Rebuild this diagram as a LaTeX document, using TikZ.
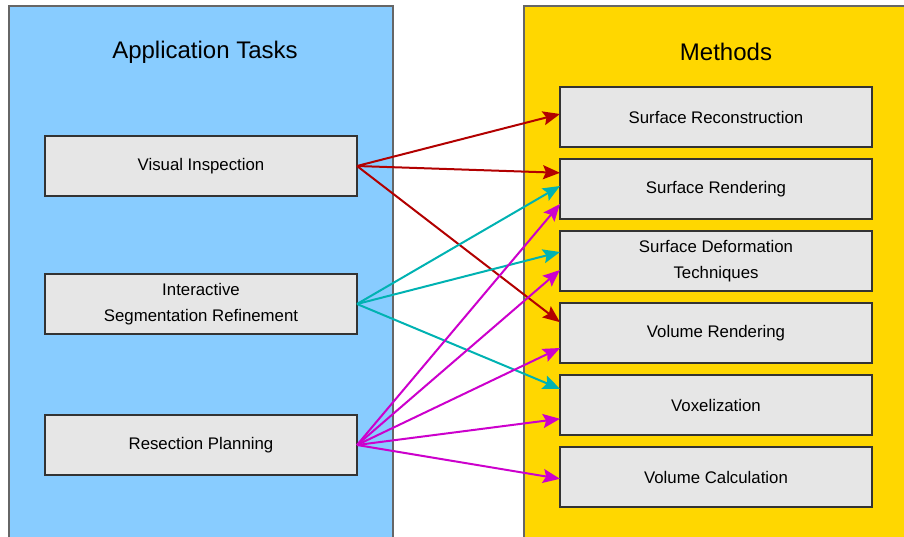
\documentclass[tikz,border=0pt]{standalone}
\usepackage{fontspec}
\setmainfont{Liberation Sans}
\usetikzlibrary{arrows.meta, positioning, calc}
\definecolor{panelblue}{RGB}{136,204,255}
\definecolor{panelgold}{RGB}{255,215,0}
\definecolor{boxgray}{RGB}{230,230,230}
\definecolor{linkred}{RGB}{178,0,0}
\definecolor{linkcyan}{RGB}{0,178,178}
\definecolor{linkmagenta}{RGB}{204,0,204}
\tikzset{
  panel/.style={draw=black!60, line width=1.5pt},
  paneltitle/.style={font=\fontsize{24}{28}\selectfont},
  taskbox/.style={draw=black!80, fill=boxgray, line width=1.2pt, minimum width=312pt,
    minimum height=60pt, inner sep=0pt, outer sep=0pt, align=center,
    font=\fontsize{16.8}{26}\selectfont},
  link/.style={line width=2pt, -{Stealth[length=17pt,width=14pt,inset=3pt]}},
}

\begin{document}
\begin{tikzpicture}[x=1pt, y=-1pt]
    \useasboundingbox (0,0) rectangle (904,537);
    \clip (0,0) rectangle (904,537);
    % 两个背景面板
    \draw[panel, fill=panelblue] (9,6) rectangle (393,560);
    \draw[panel, fill=panelgold] (524,6) rectangle (930,560);
    \node[paneltitle] (tasktitle) at (205,52) {Application Tasks};
    \node[paneltitle] (methtitle) at (726,52) {Methods};

    % 左侧：应用任务
    \node[taskbox] (vi) at (201,166) {Visual Inspection};
    \node[taskbox, below=78pt of vi] (ia) {Interactive\\Segmentation Refinement};
    \node[taskbox, below=81pt of ia] (rp) {Resection Planning};

    % 右侧：方法
    \node[taskbox] (srec) at (716,117) {Surface Reconstruction};
    \node[taskbox, below=12pt of srec] (srend) {Surface Rendering};
    \node[taskbox, below=12pt of srend] (sdef) {Surface Deformation\\Techniques};
    \node[taskbox, below=12pt of sdef] (vrend) {Volume Rendering};
    \node[taskbox, below=12pt of vrend] (voxel) {Voxelization};
    \node[taskbox, below=12pt of voxel] (vcalc) {Volume Calculation};

    % 连线
    \draw[link, linkred] (vi.east) -- ($(srec.north west)!0.45!(srec.south west)$);
    \draw[link, linkred] (vi.east) -- ($(srend.north west)!0.23!(srend.south west)$);
    \draw[link, linkred] (vi.east) -- ($(vrend.north west)!0.32!(vrend.south west)$);

    \draw[link, linkcyan] (ia.east) -- ($(srend.north west)!0.45!(srend.south west)$);
    \draw[link, linkcyan] (ia.east) -- ($(sdef.north west)!0.35!(sdef.south west)$);
    \draw[link, linkcyan] (ia.east) -- ($(voxel.north west)!0.23!(voxel.south west)$);

    \draw[link, linkmagenta] (rp.east) -- ($(srend.north west)!0.75!(srend.south west)$);
    \draw[link, linkmagenta] (rp.east) -- ($(sdef.north west)!0.65!(sdef.south west)$);
    \draw[link, linkmagenta] (rp.east) -- ($(vrend.north west)!0.75!(vrend.south west)$);
    \draw[link, linkmagenta] (rp.east) -- ($(voxel.north west)!0.73!(voxel.south west)$);
    \draw[link, linkmagenta] (rp.east) -- ($(vcalc.north west)!0.53!(vcalc.south west)$);
\end{tikzpicture}
\end{document}
